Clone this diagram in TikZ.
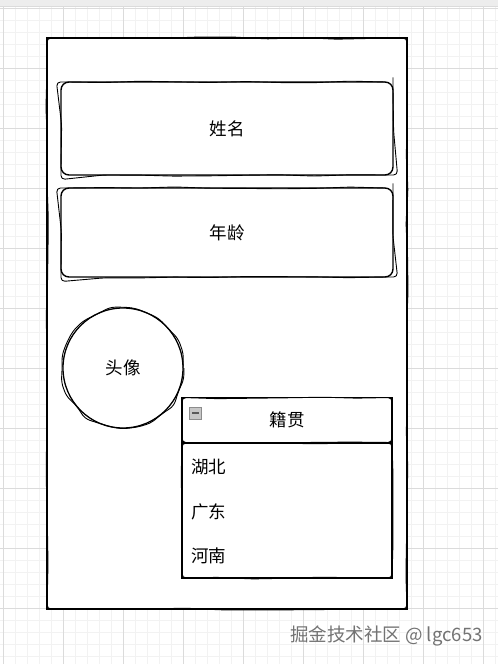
\documentclass[tikz,border=0pt]{standalone}
\usepackage{fontspec}
\newfontfamily\cjk{Noto Sans CJK SC}
\usetikzlibrary{decorations.pathmorphing}

\tikzset{
  sketch/.style={draw, line width=1.4pt, fill=white,
    postaction={draw, line width=0.9pt, decorate, rounded corners=4pt,
      decoration={random steps, segment length=35pt, amplitude=1.2pt}}},
  label/.style={font=\cjk\fontsize{17.5}{21}\selectfont},
  field/.style={sketch, label, rounded corners=8pt, minimum width=332pt},
  avatar/.style={circle, draw, line width=1.3pt, fill=white, label, minimum size=120pt,
    postaction={draw, line width=0.9pt, decorate, rounded corners=5pt,
      decoration={random steps, segment length=14pt, amplitude=1.8pt}}},
  listpart/.style={sketch, rounded corners=0pt, minimum width=210pt},
  item/.style={label, anchor=west, inner sep=0pt},
  minorline/.style={draw=black!5, line width=0.5pt},
  majorline/.style={draw=black!14, line width=0.8pt}
}

\begin{document}
\begin{tikzpicture}[x=1pt, y=-1pt]
  \useasboundingbox (0,0) rectangle (498,664);
  % canvas grid
  \fill[white] (0,0) rectangle (498,664);
  \foreach \x in {3,15,...,495}
    \draw[minorline] (\x,6) -- (\x,664);
  \foreach \y in {8,20,...,656}
    \draw[minorline] (0,\y) -- (498,\y);
  \foreach \x in {3,63,...,483}
    \draw[majorline] (\x,6) -- (\x,664);
  \foreach \y in {8,68,...,608}
    \draw[majorline] (0,\y) -- (498,\y);
  \fill[black!7] (0,0) rectangle (498,6);
  \draw[black!14, line width=0.8pt] (0,6) -- (498,6);

  % phone frame
  \node[sketch, minimum width=360pt, minimum height=571pt] (phone) at (227,323.5) {};

  % form fields
  \node[field, minimum height=93pt] (name) at (227,128.5) {姓名};
  \node[field, minimum height=89pt] (age) at (227,232.5) {年龄};

  % avatar
  \node[avatar] (face) at (123,368) {头像};

  % native place list
  \node[listpart, minimum height=135pt] (listbody) at (287,510.5) {};
  \node[listpart, label, minimum height=45pt] (listhead) at (287,420) {籍贯};
  \node[draw=black!45, fill=black!22, minimum size=12pt, inner sep=0pt,
    path picture={\draw[line width=1.3pt, black!65]
      ([xshift=2.5pt]path picture bounding box.west) --
      ([xshift=-2.5pt]path picture bounding box.east);}] (fold) at (195.5,413) {};
  \node[item] (hubei) at (191,467) {湖北};
  \node[item] (guangdong) at (191,512) {广东};
  \node[item] (henan) at (191,556) {河南};

  % watermark
  \node[anchor=west, inner sep=0pt, text=black!55, font=\cjk\fontsize{18.5}{22}\selectfont]
    (mark) at (290,636) {掘金技术社区 @ lgc653};
\end{tikzpicture}
\end{document}
